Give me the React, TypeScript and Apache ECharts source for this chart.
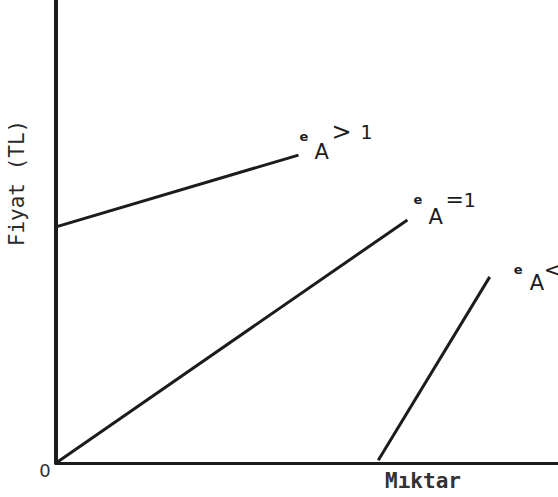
import React, { useEffect, useRef } from "react";
import * as echarts from "echarts";

// Line segments (x: Miktar 0-100, y: Fiyat 0-100)
const elasticLine = [[0, 51], [48.3, 66.5]];
const unitLine = [[0, 0], [70, 52.5]];
const inelasticLine = [[64.2, 0.6], [86.4, 40.2]];
const lineLabels = [">", "=", "<"];
const yAxisTitle = "Fiyat (TL)";
const xAxisTitle = "Mıktar";
const originLabel = "0";

const ink = "#1c1c1c";
const font = "DejaVu Sans";

type LabelCfg = { dy: number; dist: number; l1: number; l2: number; ePad: number; eW: number; spW: number; oneGap: number; opSize: number };

function endLabelFor(op: string, c: LabelCfg) {
  return {
    show: true,
    distance: c.dist,
    offset: [0, c.dy],
    align: "left",
    formatter: `{e|e}{op|${op}}{one|1}\n{sp| }{a|A}`,
    rich: {
      e: { fontSize: 13, fontWeight: "bold", color: ink, fontFamily: font, lineHeight: c.l1 - c.ePad, padding: [c.ePad, 0, 0, 0], width: c.eW, align: "left" },
      op: { fontSize: c.opSize, color: ink, fontFamily: font, lineHeight: c.l1 },
      one: { fontSize: 19, color: ink, fontFamily: font, lineHeight: c.l1, padding: [0, 0, 0, c.oneGap] },
      sp: { fontSize: 10, lineHeight: c.l2, width: c.spW },
      a: { fontSize: 21, color: ink, fontFamily: font, lineHeight: c.l2 },
    },
  };
}

function seg(data: number[][], op: string, c: LabelCfg) {
  return {
    type: "line",
    data,
    symbol: "none",
    lineStyle: { color: ink, width: 3 },
    endLabel: endLabelFor(op, c),
    silent: true,
  };
}

export default function App() {
  const ref = useRef<HTMLDivElement>(null);
  useEffect(() => {
    if (!ref.current) return;
    const chart = echarts.init(ref.current, null, { renderer: "svg" });
    chart.setOption({
      animation: false,
      backgroundColor: "#ffffff",
      grid: { left: 56, right: 0, top: 0, bottom: 34, containLabel: false },
      xAxis: {
        type: "value",
        min: 0,
        max: 100,
        axisLine: { show: true, lineStyle: { color: ink, width: 3 } },
        axisTick: { show: false },
        axisLabel: { show: false },
        splitLine: { show: false },
      },
      yAxis: {
        type: "value",
        min: 0,
        max: 100,
        axisLine: { show: true, lineStyle: { color: ink, width: 4 } },
        axisTick: { show: false },
        axisLabel: { show: false },
        splitLine: { show: false },
      },
      series: [
        seg(elasticLine, lineLabels[0], { dy: -14, dist: 1, l1: 22, l2: 18, ePad: 8, eW: 32, spW: 15, oneGap: 9, opSize: 24 }),
        seg(unitLine, lineLabels[1], { dy: -14, dist: 6, l1: 22, l2: 12, ePad: 0, eW: 32, spW: 15, oneGap: 0, opSize: 22 }),
        seg(inelasticLine, lineLabels[2], { dy: -2, dist: 24, l1: 16, l2: 10, ePad: 0, eW: 30, spW: 16, oneGap: 6, opSize: 22 }),
      ],
      graphic: [
        {
          type: "text",
          x: 17,
          y: 183,
          rotation: Math.PI / 2,
          style: {
            text: yAxisTitle,
            fontSize: 21,
            fill: "#2a2a2a",
            fontFamily: "DejaVu Sans Mono",
            align: "center",
            verticalAlign: "middle",
          },
        },
        {
          type: "text",
          x: 423,
          y: 481,
          style: {
            text: xAxisTitle,
            fontSize: 21,
            fontWeight: "bold",
            fill: "#333",
            fontFamily: "DejaVu Sans Mono",
            align: "center",
            verticalAlign: "middle",
          },
        },
        {
          type: "text",
          x: 45,
          y: 470,
          style: {
            text: originLabel,
            fontSize: 18,
            fill: "#333",
            fontFamily: font,
            align: "center",
            verticalAlign: "middle",
          },
        },
      ],
    });
    return () => chart.dispose();
  }, []);
  return (
    <div
      ref={ref}
      style={{ position: "fixed", left: 0, top: 0, width: 558, height: 497, background: "#fff" }}
    />
  );
}
